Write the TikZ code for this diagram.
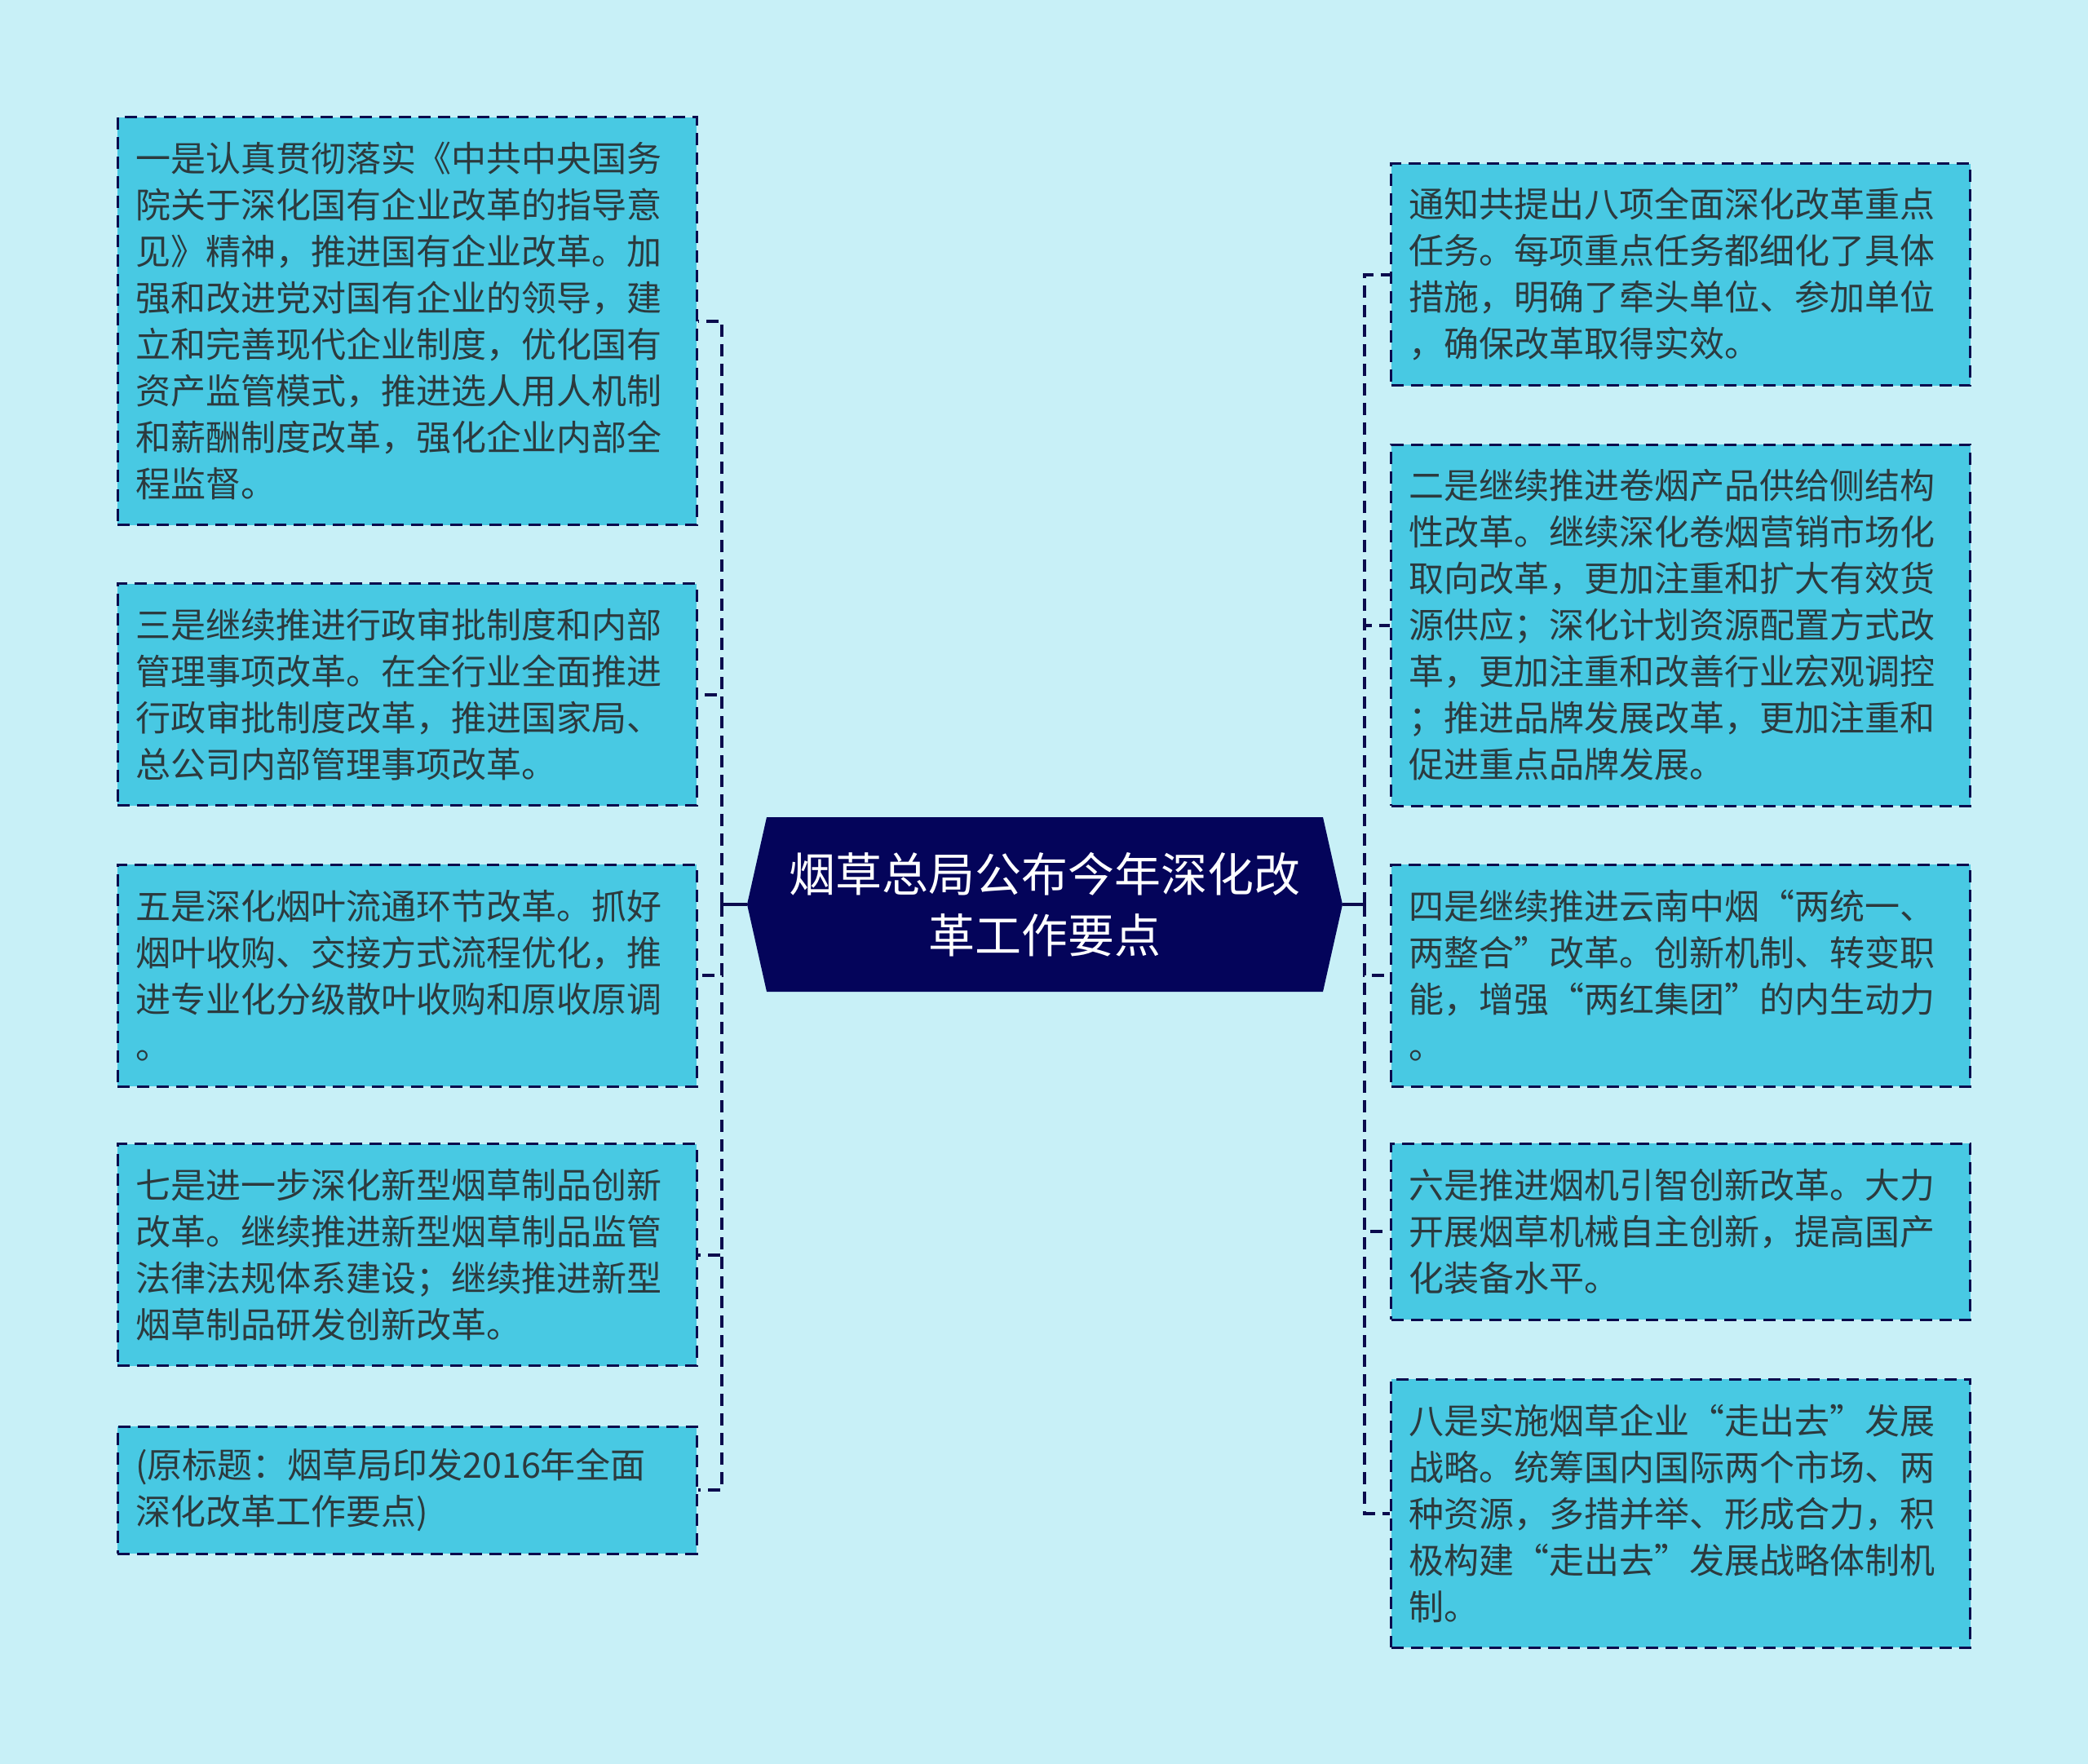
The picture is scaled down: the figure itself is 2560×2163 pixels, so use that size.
\documentclass[tikz,border=0pt]{standalone}
\usepackage{fontspec}
\setmainfont{Noto Sans CJK SC}
\definecolor{bg}{HTML}{C8F0F7}
\definecolor{boxfill}{HTML}{48C9E3}
\definecolor{navy}{HTML}{04045A}
\definecolor{linecol}{HTML}{0B0B4D}
\definecolor{txt}{HTML}{2C3A3E}
\begin{document}
\begin{tikzpicture}[x=0.5pt,y=-0.5pt,
  leaf/.style={rectangle, draw=linecol, line width=1.5pt, dash pattern=on 7.5pt off 4.5pt,
    fill=boxfill, text=txt, font=\fontsize{21.5pt}{28.5pt}\selectfont,
    text width=333pt, inner xsep=11pt, inner ysep=0pt, align=left, minimum width=355pt},
  conn/.style={draw=linecol, line width=2pt, dash pattern=on 7.5pt off 4.5pt},
  hub/.style={font=\fontsize{28.5pt}{37.5pt}\selectfont, text=white, align=center,
    minimum width=365pt, minimum height=107pt, inner sep=0pt}]
\useasboundingbox (0,0) rectangle (2560,2163);
\fill[bg] (0,0) rectangle (2560,2163);

% central hub
\fill[navy] (916,1109) -- (940,1002) -- (1622,1002) -- (1646,1109) -- (1622,1216) -- (940,1216) -- cycle;
\node[hub] (c) at (1281,1109) {烟草总局公布今年深化改\\革工作要点};

% left boxes
\node[leaf, minimum height=250pt] (L1) at (499,393.5) {一是认真贯彻落实《中共中央国务\\院关于深化国有企业改革的指导意\\见》精神，推进国有企业改革。加\\强和改进党对国有企业的领导，建\\立和完善现代企业制度，优化国有\\资产监管模式，推进选人用人机制\\和薪酬制度改革，强化企业内部全\\程监督。};
\node[leaf, minimum height=136pt] (L2) at (499,851.5) {三是继续推进行政审批制度和内部\\管理事项改革。在全行业全面推进\\行政审批制度改革，推进国家局、\\总公司内部管理事项改革。};
\node[leaf, minimum height=136pt] (L3) at (499,1196) {五是深化烟叶流通环节改革。抓好\\烟叶收购、交接方式流程优化，推\\进专业化分级散叶收购和原收原调\\。};
\node[leaf, minimum height=136pt] (L4) at (499,1538.5) {七是进一步深化新型烟草制品创新\\改革。继续推进新型烟草制品监管\\法律法规体系建设；继续推进新型\\烟草制品研发创新改革。};
\node[leaf, minimum height=78pt] (L5) at (499,1827) {(原标题：烟草局印发2016年全面\\深化改革工作要点)};

% right boxes
\node[leaf, minimum height=136pt] (R1) at (2060.5,336.5) {通知共提出八项全面深化改革重点\\任务。每项重点任务都细化了具体\\措施，明确了牵头单位、参加单位\\，确保改革取得实效。};
\node[leaf, minimum height=221.5pt] (R2) at (2060.5,766.5) {二是继续推进卷烟产品供给侧结构\\性改革。继续深化卷烟营销市场化\\取向改革，更加注重和扩大有效货\\源供应；深化计划资源配置方式改\\革，更加注重和改善行业宏观调控\\；推进品牌发展改革，更加注重和\\促进重点品牌发展。};
\node[leaf, minimum height=136pt] (R3) at (2060.5,1196) {四是继续推进云南中烟“两统一、\\两整合”改革。创新机制、转变职\\能，增强“两红集团”的内生动力\\。};
\node[leaf, minimum height=108pt] (R4) at (2060.5,1510) {六是推进烟机引智创新改革。大力\\开展烟草机械自主创新，提高国产\\化装备水平。};
\node[leaf, minimum height=164.5pt] (R5) at (2060.5,1855.5) {八是实施烟草企业“走出去”发展\\战略。统筹国内国际两个市场、两\\种资源，多措并举、形成合力，积\\极构建“走出去”发展战略体制机\\制。};

% connectors
\coordinate (lx) at (885,1109);
\coordinate (rx) at (1673,1109);
\draw[linecol, line width=2pt] (c.west) -- (lx);
\draw[linecol, line width=2pt] (c.east) -- (rx);
\foreach \n in {L1,L2,L3,L4,L5}
  \draw[conn] (lx) |- (\n.east);
\foreach \n in {R1,R2,R3,R4,R5}
  \draw[conn] (rx) |- (\n.west);
\end{tikzpicture}
\end{document}
